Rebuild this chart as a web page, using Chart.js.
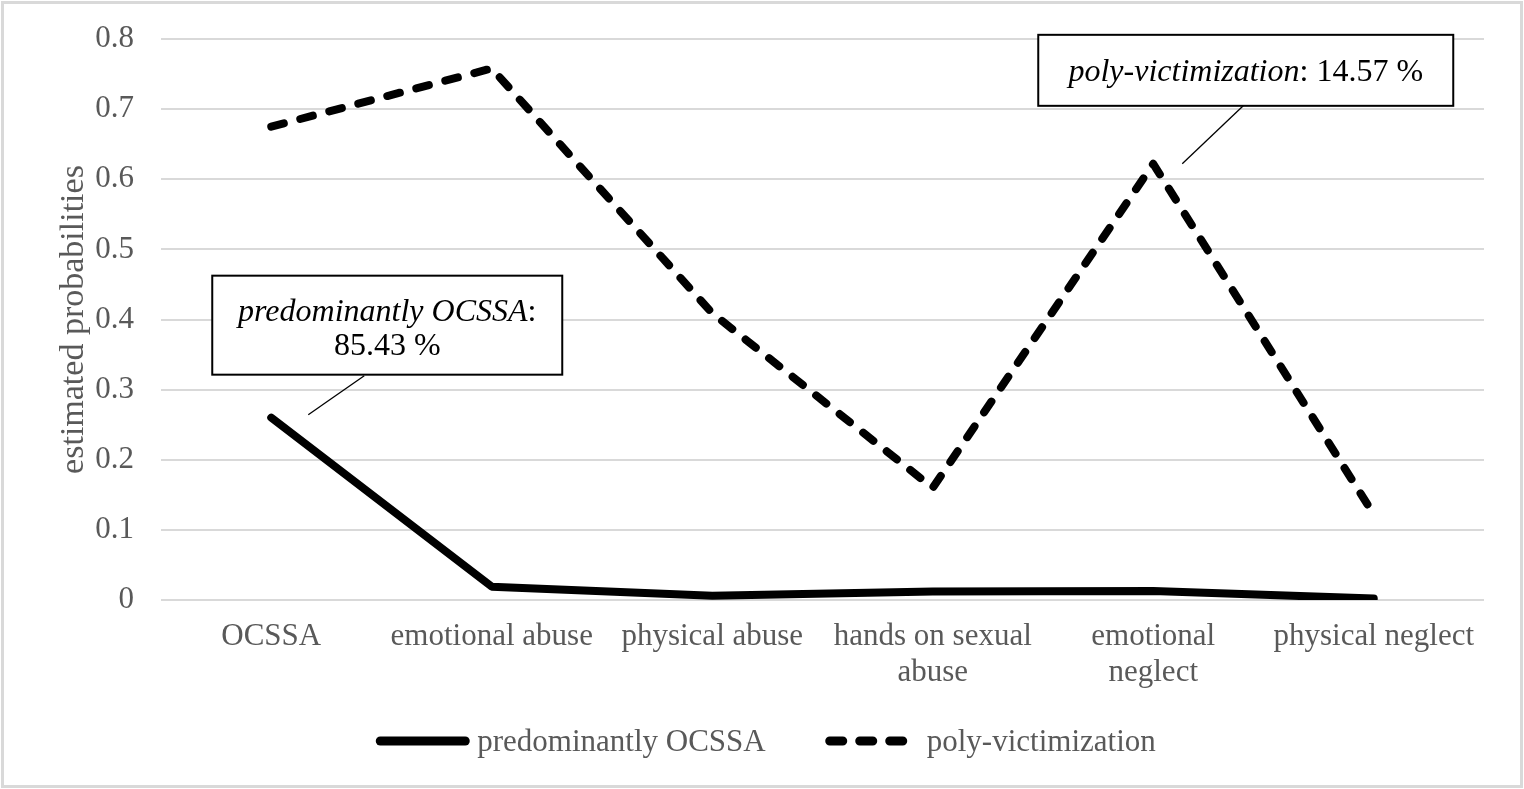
<!DOCTYPE html>
<html>
<head>
<meta charset="utf-8">
<script src="https://cdn.jsdelivr.net/npm/chart.js@4.4.0/dist/chart.umd.min.js"></script>
<style>
  html, body { margin: 0; padding: 0; background: #fff; }
  #wrap { width: 1524px; height: 789px; position: relative; }
</style>
</head>
<body>
<div id="wrap"><canvas id="myChart" width="1524" height="789"></canvas></div>
<script>
// categorias e valores
var categories = ['OCSSA', 'emotional abuse', 'physical abuse', ['hands on sexual', 'abuse'], ['emotional', 'neglect'], 'physical neglect'];
var ocssaValues = [0.26, 0.019, 0.006, 0.012, 0.013, 0.002];
var polyValues = [0.675, 0.758, 0.409, 0.16, 0.622, 0.122];
var seriesNames = ['predominantly OCSSA', 'poly-victimization'];
var yTicks = [0, 0.1, 0.2, 0.3, 0.4, 0.5, 0.6, 0.7, 0.8];

var grey = '#595959';
var fontFamily = '"Liberation Serif", "Times New Roman", serif';

// moldura cinza do gráfico
var borderPlugin = {
    id: 'frame',
    afterDraw: function (chart) {
        var ctx = chart.ctx;
        ctx.save();
        ctx.strokeStyle = '#d9d9d9';
        ctx.lineWidth = 3;
        ctx.strokeRect(2.5, 2.5, chart.width - 5, chart.height - 5);
        ctx.restore();
    }
};

// legenda desenhada à mão (linha + texto), centrada embaixo
var legendPlugin = {
    id: 'bottomLegend',
    afterDraw: function (chart) {
        var ctx = chart.ctx;
        var lineLen = 93, gapText = 8, gapItem = 60, y = 741;
        ctx.save();
        ctx.font = '31px ' + fontFamily;
        var items = chart.data.datasets.map(function (ds) {
            return { ds: ds, w: lineLen + gapText + ctx.measureText(ds.label).width };
        });
        var total = items.reduce(function (s, it) { return s + it.w; }, 0) + gapItem * (items.length - 1);
        var x = chart.width / 2 + 4 - total / 2;
        items.forEach(function (it) {
            ctx.strokeStyle = it.ds.borderColor;
            ctx.lineWidth = 9;
            ctx.lineCap = 'round';
            ctx.setLineDash(it.ds.borderDash || []);
            ctx.beginPath();
            ctx.moveTo(x + 4, y);
            ctx.lineTo(x + lineLen - 4, y);
            ctx.stroke();
            ctx.setLineDash([]);
            ctx.fillStyle = grey;
            ctx.textAlign = 'left';
            ctx.textBaseline = 'middle';
            ctx.fillText(it.ds.label, x + lineLen + gapText, y + 2);
            x += it.w + gapItem;
        });
        ctx.restore();
    }
};

// caixas de anotação com linha de chamada
var calloutPlugin = {
    id: 'callouts',
    afterDatasetsDraw: function (chart) {
        var ctx = chart.ctx;
        var xs = chart.scales.x, ys = chart.scales.y;
        var notes = [
            { idx: 0, val: ocssaValues[0], box: [-59, -142, 350, 99], lead: [93, -42, 37, -3], shift: 4,
              lines: [[['predominantly OCSSA', true], [':', false]], [['85.43 %', false]]] },
            { idx: 4, val: polyValues[4], box: [-115, -129, 415, 71], lead: [90, -58, 29, 0], shift: 2,
              lines: [[['poly-victimization', true], [': 14.57 %', false]]] }
        ];
        ctx.save();
        notes.forEach(function (n) {
            var px = xs.getPixelForValue(n.idx);
            var py = ys.getPixelForValue(n.val);
            var bx = px + n.box[0], by = py + n.box[1], bw = n.box[2], bh = n.box[3];
            // linha de chamada
            ctx.strokeStyle = '#000';
            ctx.lineWidth = 1.3;
            ctx.beginPath();
            ctx.moveTo(px + n.lead[0], py + n.lead[1]);
            ctx.lineTo(px + n.lead[2], py + n.lead[3]);
            ctx.stroke();
            // caixa
            ctx.fillStyle = '#fff';
            ctx.fillRect(bx, by, bw, bh);
            ctx.lineWidth = 2;
            ctx.strokeRect(bx, by, bw, bh);
            // texto
            ctx.fillStyle = '#000';
            ctx.textBaseline = 'middle';
            ctx.textAlign = 'left';
            var lh = 34;
            var startY = by + bh / 2 + n.shift - (n.lines.length - 1) * lh / 2;
            n.lines.forEach(function (parts, li) {
                var total = 0;
                parts.forEach(function (p) {
                    ctx.font = (p[1] ? 'italic ' : '') + '32px ' + fontFamily;
                    total += ctx.measureText(p[0]).width;
                });
                var tx = bx + bw / 2 - total / 2;
                parts.forEach(function (p) {
                    ctx.font = (p[1] ? 'italic ' : '') + '32px ' + fontFamily;
                    ctx.fillText(p[0], tx, startY + li * lh);
                    tx += ctx.measureText(p[0]).width;
                });
            });
        });
        ctx.restore();
    }
};

const config = {
    type: 'line',
    data: {
        labels: categories,
        datasets: [{
            label: seriesNames[0],
            data: ocssaValues,
            borderColor: '#000',
            backgroundColor: '#000',
            borderWidth: 8,
            borderCapStyle: 'round',
            borderJoinStyle: 'round',
            pointRadius: 0,
            tension: 0,
            fill: false
        }, {
            label: seriesNames[1],
            data: polyValues,
            borderColor: '#000',
            backgroundColor: '#000',
            borderWidth: 8,
            borderDash: [13, 17],
            borderCapStyle: 'round',
            borderJoinStyle: 'round',
            pointRadius: 0,
            tension: 0,
            fill: false
        }]
    },
    options: {
        responsive: false,
        animation: false,
        devicePixelRatio: 1,
        layout: { padding: { left: 0, right: 40, top: 39, bottom: 99 } },
        plugins: {
            tooltip: { enabled: false },
            legend: { display: false }
        },
        scales: {
            x: {
                offset: true,
                grid: { display: false, drawTicks: false },
                border: { display: false },
                ticks: {
                    color: grey,
                    font: { family: fontFamily, size: 31, lineHeight: 1.15 },
                    padding: 19,
                    maxRotation: 0,
                    autoSkip: false
                },
                afterFit: function (scale) { scale.height = 90; }
            },
            y: {
                min: 0,
                max: 0.8,
                afterBuildTicks: function (scale) {
                    scale.ticks = yTicks.map(function (v) { return { value: v }; });
                },
                grid: { color: '#d9d9d9', lineWidth: 2, drawTicks: false },
                border: { display: false },
                ticks: {
                    color: grey,
                    font: { family: fontFamily, size: 31, lineHeight: 0.77 },
                    padding: 27,
                    callback: function (v) { return String(Math.round(v * 10) / 10); }
                },
                title: {
                    display: true,
                    text: 'estimated probabilities',
                    color: grey,
                    font: { family: fontFamily, size: 34 },
                    padding: { top: 54, bottom: 0 }
                },
                afterFit: function (scale) { scale.width = 161; }
            }
        }
    },
    plugins: [calloutPlugin, legendPlugin, borderPlugin]
};

const ctx = document.getElementById('myChart').getContext('2d');
var chart = new Chart(ctx, config);
</script>
</body>
</html>
